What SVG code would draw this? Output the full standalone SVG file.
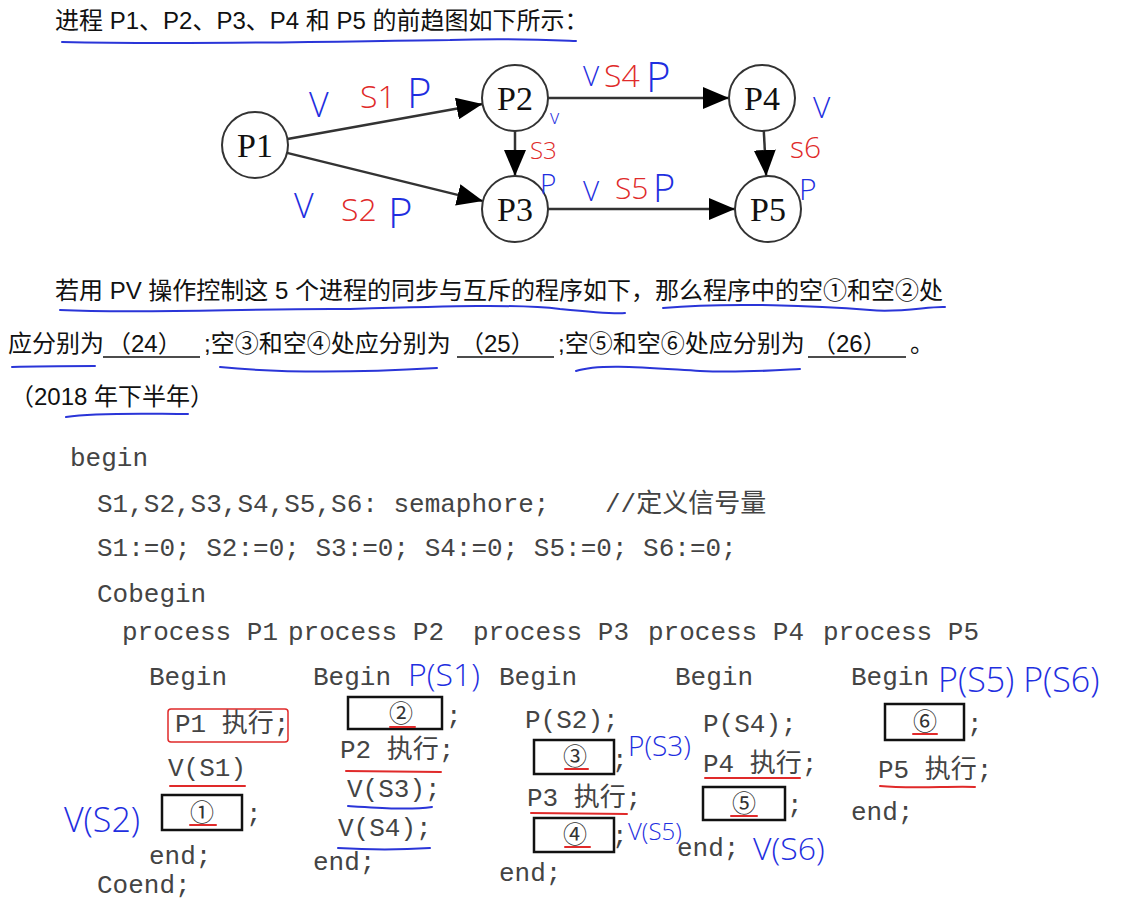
<svg xmlns="http://www.w3.org/2000/svg" width="1125" height="904" viewBox="0 0 1125 904">
<defs>
<marker id="arr" markerUnits="userSpaceOnUse" markerWidth="28" markerHeight="22" refX="26" refY="11" orient="auto">
<path d="M0,0 L26,11 L0,22 Z" fill="#000"/>
</marker>
<style>
.cn{font-family:"Liberation Sans","Noto Sans CJK SC",sans-serif;font-size:24px;fill:#111}
.code{font-family:"Liberation Mono","Noto Sans CJK SC",monospace;font-size:26px;fill:#444}
.node circle{fill:#fff;stroke:#333;stroke-width:2}
.node text{font-family:"Liberation Serif",serif;font-size:34px;fill:#111;text-anchor:middle}
.edge{stroke:#333;stroke-width:2.5;fill:none;marker-end:url(#arr)}
.hb{font-family:"Open Sans","DejaVu Sans",sans-serif;font-weight:300;fill:#1f2fe0}
.hr{font-family:"Open Sans","DejaVu Sans",sans-serif;font-weight:300;fill:#e02a2a}
.ub{stroke:#2a35d8;stroke-width:2;fill:none;stroke-linecap:round}
.ur{stroke:#e02a2a;stroke-width:2;fill:none;stroke-linecap:round}
.box{fill:none;stroke:#111;stroke-width:2.5}
.circ{font-family:"Noto Sans CJK SC",sans-serif;font-size:24px;fill:#333;text-anchor:middle}
</style>
</defs>
<rect width="1125" height="904" fill="#fff"/>

<!-- Title -->
<text class="cn" x="55" y="29">进程 P1、P2、P3、P4 和 P5 的前趋图如下所示：</text>
<path class="ub" d="M62,42 C200,45 350,41 450,40 C510,38 550,40 576,41"/>

<!-- Graph connectors -->
<g id="connectors">
<line class="edge" x1="287.5" y1="139.1" x2="482.5" y2="103.9"/>
<line class="edge" x1="287" y1="152.9" x2="483" y2="201.1"/>
<line class="edge" x1="515" y1="131" x2="515" y2="176"/>
<line class="edge" x1="548" y1="98" x2="729" y2="98"/>
<line class="edge" x1="548" y1="209" x2="735" y2="209"/>
<line class="edge" x1="763.8" y1="131" x2="766.2" y2="176"/>
</g>

<g id="P1" class="node"><circle cx="255" cy="145" r="33"/><text x="255" y="157">P1</text></g>
<g id="P2" class="node"><circle cx="515" cy="98" r="33"/><text x="515" y="110">P2</text></g>
<g id="P3" class="node"><circle cx="515" cy="209" r="33"/><text x="515" y="221">P3</text></g>
<g id="P4" class="node"><circle cx="762" cy="98" r="33"/><text x="762" y="110">P4</text></g>
<g id="P5" class="node"><circle cx="768" cy="209" r="33"/><text x="768" y="221">P5</text></g>

<!-- handwritten graph annotations -->
<g id="annot-graph">
<text class="hb" x="309" y="117" font-size="34">V</text>
<text class="hr" x="360" y="108" font-size="32">S1</text>
<text class="hb" x="407" y="108" font-size="42">P</text>
<text class="hb" x="294" y="218" font-size="34">V</text>
<text class="hr" x="341" y="221" font-size="32">S2</text>
<text class="hb" x="388" y="228" font-size="42">P</text>
<text class="hb" x="550" y="124" font-size="20">v</text>
<text class="hr" x="530" y="159" font-size="24">S3</text>
<text class="hb" x="540" y="194" font-size="28">P</text>
<text class="hb" x="583" y="86" font-size="28">V</text>
<text class="hr" x="604" y="87" font-size="32">S4</text>
<text class="hb" x="646" y="92" font-size="42">P</text>
<text class="hb" x="583" y="201" font-size="28">V</text>
<text class="hr" x="615" y="199" font-size="30">S5</text>
<text class="hb" x="653" y="202" font-size="38">P</text>
<text class="hb" x="813" y="118" font-size="30">V</text>
<text class="hr" x="790" y="158" font-size="30">s6</text>
<text class="hb" x="799" y="200" font-size="30">P</text>
</g>

<!-- Paragraph -->
<text class="cn" x="55" y="299">若用 PV 操作控制这 5 个进程的同步与互斥的程序如下，那么程序中的空①和空②处</text>
<path class="ub" d="M60,310 C150,314 250,308 350,309 C450,306 520,304 560,309 C600,313 615,314 625,313"/>
<path class="ub" d="M663,308 C730,302 820,306 870,310 C900,313 930,306 945,307"/>
<text class="cn" x="8" y="352">应分别为</text>
<text class="cn" x="107" y="352">（24）</text>
<line x1="103" y1="357" x2="200" y2="357" stroke="#111" stroke-width="1.5"/>
<text class="cn" x="204" y="352">;空③和空④处应分别为</text>
<text class="cn" x="460" y="352">（25）</text>
<line x1="457" y1="357" x2="554" y2="357" stroke="#111" stroke-width="1.5"/>
<text class="cn" x="558" y="352">;空⑤和空⑥处应分别为</text>
<text class="cn" x="812" y="352">（26）</text>
<line x1="808" y1="357" x2="906" y2="357" stroke="#111" stroke-width="1.5"/>
<text class="cn" x="910" y="352">。</text>
<path class="ub" d="M12,367 C40,366 70,366 95,366"/>
<path class="ub" d="M220,367 C280,373 350,373 437,368"/>
<path class="ub" d="M576,371 C600,363 650,368 700,371 C740,373 780,370 800,369"/>
<text class="cn" x="10" y="405">（2018 年下半年）</text>
<path class="ub" d="M66,417 C100,412 150,414 188,414"/>

<!-- Code -->
<g id="code">
<text class="code" x="70" y="466">begin</text>
<text class="code" x="97" y="512">S1,S2,S3,S4,S5,S6: semaphore;</text>
<text class="code" x="605" y="512">//定义信号量</text>
<text class="code" x="97" y="556">S1:=0; S2:=0; S3:=0; S4:=0; S5:=0; S6:=0;</text>
<text class="code" x="97" y="602">Cobegin</text>
<text class="code" x="122" y="640">process P1</text>
<text class="code" x="288" y="640">process P2</text>
<text class="code" x="473" y="640">process P3</text>
<text class="code" x="648" y="640">process P4</text>
<text class="code" x="823" y="640">process P5</text>
</g>

<!-- Process 1 -->
<g id="proc1">
<text class="code" x="149" y="685">Begin</text>
<rect x="168" y="709" width="120" height="33" rx="3" fill="none" stroke="#e02a2a" stroke-width="1.5"/>
<text class="code" x="175" y="732">P1 执行;</text>
<text class="code" x="168" y="776">V(S1)</text>
<path class="ur" d="M170,786 L245,786"/>
<rect class="box" x="162" y="795" width="80" height="35"/>
<text class="circ" x="202" y="821">①</text>
<path class="ur" d="M190,825 L216,825"/>
<text class="code" x="246" y="822">;</text>
<text class="code" x="149" y="864">end;</text>
<text class="code" x="97" y="893">Coend;</text>
<text class="hb" x="64" y="832" font-size="34">V(S2)</text>
</g>

<!-- Process 2 -->
<g id="proc2">
<text class="code" x="313" y="685">Begin</text>
<text class="hb" x="408" y="686" font-size="32">P(S1)</text>
<rect class="box" x="348" y="697" width="94" height="32"/>
<text class="circ" x="401" y="722">②</text>
<path class="ur" d="M390,727 L415,727"/>
<text class="code" x="446" y="724">;</text>
<text class="code" x="340" y="758">P2 执行;</text>
<path class="ur" d="M346,771 L441,772"/>
<text class="code" x="347" y="797">V(S3);</text>
<path class="ub" d="M348,806 C380,808 410,810 432,807"/>
<text class="code" x="338" y="836">V(S4);</text>
<path class="ub" d="M338,848 C370,850 400,850 430,848"/>
<text class="code" x="313" y="870">end;</text>
</g>

<!-- Process 3 -->
<g id="proc3">
<text class="code" x="499" y="685">Begin</text>
<text class="code" x="525" y="728">P(S2);</text>
<rect class="box" x="534" y="740" width="80" height="34"/>
<text class="circ" x="575" y="765">③</text>
<path class="ur" d="M565,769 L588,769"/>
<text class="code" x="612" y="768">;</text>
<text class="hb" x="628" y="756" font-size="28">P(S3)</text>
<text class="code" x="527" y="806">P3 执行;</text>
<path class="ur" d="M531,813 L627,814"/>
<rect class="box" x="534" y="818" width="80" height="34"/>
<text class="circ" x="575" y="843">④</text>
<path class="ur" d="M565,847 L590,847"/>
<text class="code" x="612" y="844">;</text>
<text class="hb" x="628" y="840" font-size="24">V(S5)</text>
<text class="code" x="499" y="881">end;</text>
</g>

<!-- Process 4 -->
<g id="proc4">
<text class="code" x="675" y="685">Begin</text>
<text class="code" x="703" y="732">P(S4);</text>
<text class="code" x="703" y="772">P4 执行;</text>
<path class="ur" d="M705,778 L800,778"/>
<rect class="box" x="703" y="787" width="82" height="33"/>
<text class="circ" x="744" y="812">⑤</text>
<path class="ur" d="M731,816 L757,816"/>
<text class="code" x="787" y="813">;</text>
<text class="code" x="677" y="856">end;</text>
<text class="hb" x="753" y="860" font-size="32">V(S6)</text>
</g>

<!-- Process 5 -->
<g id="proc5">
<text class="code" x="851" y="685">Begin</text>
<text class="hb" x="938" y="692" font-size="34">P(S5) P(S6)</text>
<rect class="box" x="885" y="704" width="79" height="36"/>
<text class="circ" x="925" y="730">⑥</text>
<path class="ur" d="M913,734 L937,734"/>
<text class="code" x="967" y="732">;</text>
<text class="code" x="878" y="778">P5 执行;</text>
<path class="ur" d="M880,786 C910,789 950,786 975,787"/>
<text class="code" x="851" y="820">end;</text>
</g>
</svg>
